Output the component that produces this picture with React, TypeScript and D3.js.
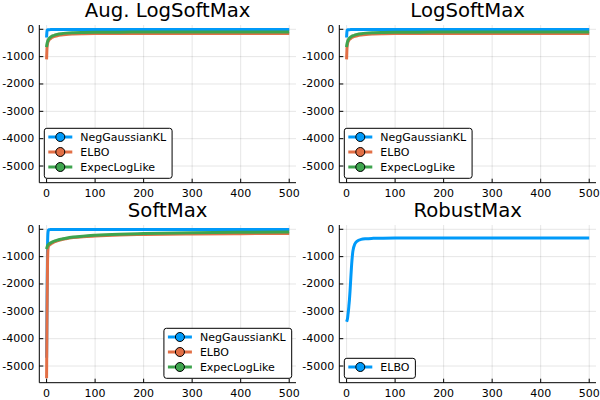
import * as d3 from "d3";

// iterations
const iters = [0, 1, 2, 3, 4, 5, 6, 8, 10, 13, 17, 22, 30, 40, 55, 75, 100, 150, 200, 300, 400, 500];

const augNegKL = [-300, -60, -20, -15, -14, -13, -13, -12, -12, -12, -12, -12, -12, -12, -12, -12, -12, -12, -12, -12, -12, -12];
const augElbo = [-1100, -650, -530, -460, -425, -395, -370, -340, -310, -285, -260, -235, -210, -190, -175, -165, -158, -154, -152, -150, -150, -150];
const augLogLike = [-650, -520, -450, -400, -370, -345, -320, -290, -260, -235, -210, -185, -160, -140, -125, -115, -108, -104, -102, -100, -100, -100];

const lsmNegKL = [-300, -60, -20, -15, -14, -13, -13, -12, -12, -12, -12, -12, -12, -12, -12, -12, -12, -12, -12, -12, -12, -12];
const lsmElbo = [-1100, -650, -530, -460, -425, -395, -370, -340, -310, -285, -260, -235, -210, -190, -175, -165, -158, -154, -152, -150, -150, -150];
const lsmLogLike = [-650, -520, -450, -400, -370, -345, -320, -290, -260, -235, -210, -185, -160, -140, -125, -115, -108, -104, -102, -100, -100, -100];

const smNegKL = [-4700, -2500, -600, -100, -30, -15, -12, -10, -10, -10, -10, -10, -10, -10, -10, -10, -10, -10, -10, -10, -10, -10];
const smElbo = [-5450, -3000, -1200, -700, -620, -590, -570, -545, -520, -490, -455, -420, -380, -345, -305, -270, -245, -210, -190, -170, -160, -150];
const smLogLike = [-720, -650, -600, -570, -550, -535, -520, -500, -480, -455, -425, -395, -360, -325, -285, -250, -220, -180, -155, -125, -110, -100];

const rmElbo = [-3380, -3330, -3250, -3100, -2950, -2750, -2550, -2000, -1400, -800, -540, -430, -370, -345, -332, -325, -322, -320, -320, -320, -320, -320];

const xTicks = [0, 100, 200, 300, 400, 500];
const yTicks = [0, -1000, -2000, -3000, -4000, -5000];

const BLUE = "#009af9";
const ORANGE = "#e26f46";
const GREEN = "#3ea44e";
const FONT = "DejaVu Sans";

const panels = [
  {
    title: "Aug. LogSoftMax", ox: 0, oy: 0, legend: "left",
    series: [
      { name: "NegGaussianKL", values: augNegKL, color: BLUE },
      { name: "ELBO", values: augElbo, color: ORANGE },
      { name: "ExpecLogLike", values: augLogLike, color: GREEN },
    ],
  },
  {
    title: "LogSoftMax", ox: 300, oy: 0, legend: "left",
    series: [
      { name: "NegGaussianKL", values: lsmNegKL, color: BLUE },
      { name: "ELBO", values: lsmElbo, color: ORANGE },
      { name: "ExpecLogLike", values: lsmLogLike, color: GREEN },
    ],
  },
  {
    title: "SoftMax", ox: 0, oy: 200, legend: "right",
    series: [
      { name: "NegGaussianKL", values: smNegKL, color: BLUE },
      { name: "ELBO", values: smElbo, color: ORANGE },
      { name: "ExpecLogLike", values: smLogLike, color: GREEN },
    ],
  },
  {
    title: "RobustMax", ox: 300, oy: 200, legend: "left",
    series: [{ name: "ELBO", values: rmElbo, color: BLUE }],
  },
];

const plot = { left: 39.3, right: 296, top: 25, bottom: 182.7 };

const x = d3.scaleLinear().domain([-15, 514]).range([plot.left, plot.right]);
const y = d3.scaleLinear().domain([-5610, 157]).range([plot.bottom, plot.top]);

const line = d3
  .line<[number, number]>()
  .x((d) => x(d[0]))
  .y((d) => y(d[1]))
  .curve(d3.curveMonotoneX);

let ctx: CanvasRenderingContext2D | null = null;
const textWidth = (s: string) => {
  if (!ctx) ctx = document.createElement("canvas").getContext("2d");
  ctx!.font = `11px "${FONT}"`;
  return ctx!.measureText(s).width;
};

const Panel = ({ p }: { p: (typeof panels)[number] }) => {
  const maxText = d3.max(p.series, (s) => textWidth(s.name)) as number;
  const legW = 36 + maxText + 6;
  const legH = p.series.length * 15 + 5;
  const legX = p.legend === "left" ? plot.left + 5 : plot.right - 4.3 - legW;
  const legY = plot.bottom - 4.4 - legH;

  return (
    <g transform={`translate(${p.ox},${p.oy})`}>
      {/* grid */}
      {xTicks.map((t) => (
        <line key={"gx" + t} x1={x(t)} x2={x(t)} y1={plot.top} y2={plot.bottom} stroke="#000" strokeOpacity={0.1} />
      ))}
      {yTicks.map((t) => (
        <line key={"gy" + t} x1={plot.left} x2={plot.right} y1={y(t)} y2={y(t)} stroke="#000" strokeOpacity={0.1} />
      ))}

      {/* series */}
      {p.series.map((s) => (
        <path
          key={s.name}
          d={line(iters.map((it, i) => [it, s.values[i]]))!}
          fill="none"
          stroke={s.color}
          strokeWidth={3}
          strokeLinejoin="round"
        />
      ))}

      {/* axes */}
      <line x1={plot.left} x2={plot.left} y1={plot.top} y2={plot.bottom} stroke="#000" />
      <line x1={plot.left} x2={plot.right} y1={plot.bottom} y2={plot.bottom} stroke="#000" />
      {yTicks.map((t) => (
        <g key={"ty" + t}>
          <line x1={plot.left} x2={plot.left + 4} y1={y(t)} y2={y(t)} stroke="#000" />
          <text x={plot.left - 5} y={y(t)} textAnchor="end" dominantBaseline="central" fontSize={11} fontFamily={FONT}>
            {t === 0 ? "0" : "-" + Math.abs(t)}
          </text>
        </g>
      ))}
      {xTicks.map((t) => (
        <g key={"tx" + t}>
          <line x1={x(t)} x2={x(t)} y1={plot.bottom} y2={plot.bottom - 4} stroke="#000" />
          <text x={x(t)} y={plot.bottom + 14} textAnchor="middle" fontSize={11} fontFamily={FONT}>
            {t}
          </text>
        </g>
      ))}

      {/* title */}
      <text x={(plot.left + plot.right) / 2} y={17} textAnchor="middle" fontSize={19.7} fontFamily={FONT}>
        {p.title}
      </text>

      {/* legend */}
      <rect x={legX} y={legY} width={legW} height={legH} rx={2.5} fill="#fff" stroke="#000" strokeWidth={1} />
      {p.series.map((s, i) => {
        const cy = legY + 8.7 + i * 15;
        return (
          <g key={"lg" + s.name}>
            <line x1={legX + 4} x2={legX + 28} y1={cy} y2={cy} stroke={s.color} strokeWidth={3} />
            <circle cx={legX + 16} cy={cy} r={4.5} fill={s.color} stroke="#000" strokeWidth={1} />
            <text x={legX + 36} y={cy} dominantBaseline="central" fontSize={11} fontFamily={FONT}>
              {s.name}
            </text>
          </g>
        );
      })}
    </g>
  );
};

export default function App() {
  return (
    <svg width={600} height={400} style={{ position: "absolute", left: 0, top: 0, background: "#fff" }}>
      {panels.map((p) => (
        <Panel key={p.title} p={p} />
      ))}
    </svg>
  );
}
